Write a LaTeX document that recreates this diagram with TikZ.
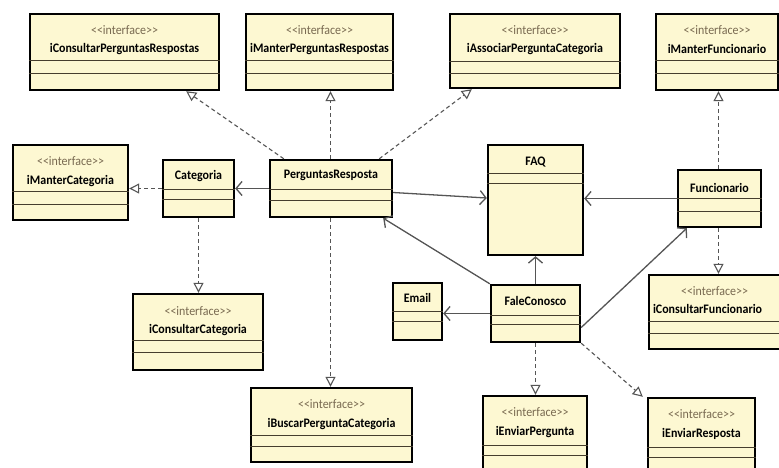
\documentclass[tikz,border=0pt]{standalone}
\usepackage{fontspec}
\setmainfont{Carlito}[FakeStretch=0.92]
\usetikzlibrary{arrows.meta, calc}

\definecolor{classfill}{RGB}{253,248,210}
\definecolor{compline}{RGB}{70,62,45}
\definecolor{stereotext}{RGB}{120,105,80}
\definecolor{linegray}{RGB}{85,85,85}

\begin{document}
\begin{tikzpicture}[x=1pt, y=-1pt,
    cls/.style={draw=black, line width=2.4pt, fill=classfill, inner sep=0pt},
    comp/.style={draw=compline, line width=1.2pt},
    stereo/.style={text=stereotext, font=\fontsize{13}{13}\selectfont, inner sep=0pt},
    cname/.style={font=\bfseries\fontsize{13}{13}\selectfont, inner sep=0pt},
    realize/.style={draw=linegray, line width=1.1pt, dash pattern=on 4pt off 3pt, -{Triangle[open, length=10pt, width=10pt]}},
    assoc/.style={draw=linegray, line width=1.3pt, -{Straight Barb[length=6pt, width=14pt]}}]
\useasboundingbox[fill=white] (0,0) rectangle (779,467);

% interfaces, top row
\node[cls, minimum width=189pt, minimum height=76pt] (icpr) at (124.5,52) {};
\draw[comp] ([yshift=-48pt]icpr.north west) -- ([yshift=-48pt]icpr.north east);
\draw[comp] ([yshift=-61pt]icpr.north west) -- ([yshift=-61pt]icpr.north east);
\node[stereo] (icprS) at ([yshift=-17pt]icpr.north) {<{}<interface>{}>};
\node[cname] (icprN) at ([yshift=-36pt]icpr.north) {iConsultarPerguntasRespostas};

\node[cls, minimum width=147pt, minimum height=76pt] (impr) at (319.5,52) {};
\draw[comp] ([yshift=-48pt]impr.north west) -- ([yshift=-48pt]impr.north east);
\draw[comp] ([yshift=-61pt]impr.north west) -- ([yshift=-61pt]impr.north east);
\node[stereo] (imprS) at ([yshift=-17pt]impr.north) {<{}<interface>{}>};
\node[cname] (imprN) at ([yshift=-36pt]impr.north) {iManterPerguntasRespostas};

\node[cls, minimum width=170pt, minimum height=74pt] (iapc) at (535,51) {};
\draw[comp] ([yshift=-49pt]iapc.north west) -- ([yshift=-49pt]iapc.north east);
\draw[comp] ([yshift=-61pt]iapc.north west) -- ([yshift=-61pt]iapc.north east);
\node[stereo] (iapcS) at ([yshift=-17pt]iapc.north) {<{}<interface>{}>};
\node[cname] (iapcN) at ([yshift=-36pt]iapc.north) {iAssociarPerguntaCategoria};

\node[cls, minimum width=122pt, minimum height=76pt] (imf) at (717,52) {};
\draw[comp] ([yshift=-48pt]imf.north west) -- ([yshift=-48pt]imf.north east);
\draw[comp] ([yshift=-61pt]imf.north west) -- ([yshift=-61pt]imf.north east);
\node[stereo] (imfS) at ([yshift=-17pt]imf.north) {<{}<interface>{}>};
\node[cname] (imfN) at ([yshift=-36pt]imf.north) {iManterFuncionario};

% middle row
\node[cls, minimum width=115pt, minimum height=75pt] (imc) at (70.5,182.5) {};
\draw[comp] ([yshift=-48pt]imc.north west) -- ([yshift=-48pt]imc.north east);
\draw[comp] ([yshift=-61pt]imc.north west) -- ([yshift=-61pt]imc.north east);
\node[stereo] (imcS) at ([yshift=-17pt]imc.north) {<{}<interface>{}>};
\node[cname] (imcN) at ([yshift=-37pt]imc.north) {iManterCategoria};

\node[cls, minimum width=71pt, minimum height=57pt] (cat) at (198.5,188.5) {};
\draw[comp] ([yshift=-31pt]cat.north west) -- ([yshift=-31pt]cat.north east);
\draw[comp] ([yshift=-41pt]cat.north west) -- ([yshift=-41pt]cat.north east);
\node[cname] (catN) at ([yshift=-17pt]cat.north) {Categoria};

\node[cls, minimum width=122pt, minimum height=57pt] (pr) at (331,188.5) {};
\draw[comp] ([yshift=-31pt]pr.north west) -- ([yshift=-31pt]pr.north east);
\draw[comp] ([yshift=-42pt]pr.north west) -- ([yshift=-42pt]pr.north east);
\node[cname] (prN) at ([yshift=-17pt]pr.north) {PerguntasResposta};

\node[cls, minimum width=95pt, minimum height=110pt] (faq) at (535.5,200) {};
\draw[comp] ([yshift=-30pt]faq.north west) -- ([yshift=-30pt]faq.north east);
\draw[comp] ([yshift=-40pt]faq.north west) -- ([yshift=-40pt]faq.north east);
\node[cname] (faqN) at ([yshift=-18pt]faq.north) {FAQ};

\node[cls, minimum width=83pt, minimum height=57pt] (func) at (719.5,198.5) {};
\draw[comp] ([yshift=-30pt]func.north west) -- ([yshift=-30pt]func.north east);
\draw[comp] ([yshift=-43pt]func.north west) -- ([yshift=-43pt]func.north east);
\node[cname] (funcN) at ([yshift=-19pt]func.north) {Funcionario};

% lower row
\node[cls, minimum width=49pt, minimum height=57pt] (email) at (417.5,311.5) {};
\draw[comp] ([yshift=-30pt]email.north west) -- ([yshift=-30pt]email.north east);
\draw[comp] ([yshift=-40pt]email.north west) -- ([yshift=-40pt]email.north east);
\node[cname] (emailN) at ([yshift=-16pt]email.north) {Email};

\node[cls, minimum width=89pt, minimum height=57pt] (fc) at (535.5,313.5) {};
\draw[comp] ([yshift=-32pt]fc.north west) -- ([yshift=-32pt]fc.north east);
\draw[comp] ([yshift=-41pt]fc.north west) -- ([yshift=-41pt]fc.north east);
\node[cname] (fcN) at ([yshift=-17pt]fc.north) {FaleConosco};

\node[cls, minimum width=130pt, minimum height=76pt] (icc) at (198,332) {};
\draw[comp] ([yshift=-48pt]icc.north west) -- ([yshift=-48pt]icc.north east);
\draw[comp] ([yshift=-60pt]icc.north west) -- ([yshift=-60pt]icc.north east);
\node[stereo] (iccS) at ([yshift=-18pt]icc.north) {<{}<interface>{}>};
\node[cname] (iccN) at ([yshift=-37pt]icc.north) {iConsultarCategoria};

\node[cls, minimum width=151pt, minimum height=74pt] (icf) at (724.5,312) {};
\draw[comp] ([yshift=-48pt]icf.north west) -- ([yshift=-48pt]icf.north east);
\draw[comp] ([yshift=-60pt]icf.north west) -- ([yshift=-60pt]icf.north east);
\node[stereo] (icfS) at ([xshift=-10pt, yshift=-17pt]icf.north) {<{}<interface>{}>};
\node[cname, anchor=west] (icfN) at ([xshift=5pt, yshift=-35pt]icf.north west) {iConsultarFuncionario};

% interfaces, bottom row
\node[cls, minimum width=161pt, minimum height=74pt] (ibpc) at (331.5,425) {};
\draw[comp] ([yshift=-49pt]ibpc.north west) -- ([yshift=-49pt]ibpc.north east);
\draw[comp] ([yshift=-60pt]ibpc.north west) -- ([yshift=-60pt]ibpc.north east);
\node[stereo] (ibpcS) at ([yshift=-17pt]ibpc.north) {<{}<interface>{}>};
\node[cname] (ibpcN) at ([yshift=-37pt]ibpc.north) {iBuscarPerguntaCategoria};

\node[cls, minimum width=104pt, minimum height=84pt] (iep) at (535,438) {};
\draw[comp] ([yshift=-51pt]iep.north west) -- ([yshift=-51pt]iep.north east);
\draw[comp] ([yshift=-61pt]iep.north west) -- ([yshift=-61pt]iep.north east);
\node[stereo] (iepS) at ([yshift=-17pt]iep.north) {<{}<interface>{}>};
\node[cname] (iepN) at ([yshift=-37pt]iep.north) {iEnviarPergunta};

\node[cls, minimum width=107pt, minimum height=84pt] (ier) at (701.5,440) {};
\draw[comp] ([yshift=-51pt]ier.north west) -- ([yshift=-51pt]ier.north east);
\draw[comp] ([yshift=-61pt]ier.north west) -- ([yshift=-61pt]ier.north east);
\node[stereo] (ierS) at ([yshift=-17pt]ier.north) {<{}<interface>{}>};
\node[cname] (ierN) at ([yshift=-37pt]ier.north) {iEnviarResposta};

% realizations
\draw[realize] ([xshift=15pt]pr.north west) -- ([xshift=-34pt]icpr.south east);
\draw[realize] ([xshift=-0.5pt]pr.north) -- ([xshift=-0.5pt]pr.north |- impr.south);
\draw[realize] ([xshift=-14pt]pr.north east) -- ([xshift=23pt]iapc.south west);
\draw[realize] ([xshift=-0.5pt]pr.south) -- ([xshift=-0.5pt]pr.south |- ibpc.north);
\draw[realize] (cat.west) -- (cat.west -| imc.east);
\draw[realize] (cat.south) -- (cat.south |- icc.north);
\draw[realize] ([xshift=-1pt]func.north) -- ([xshift=-1pt]func.north |- imf.south);
\draw[realize] ([xshift=-1pt]func.south) -- ([xshift=-1pt]func.south |- icf.north);
\draw[realize] (fc.south) -- (fc.south |- iep.north);
\draw[realize] (fc.south east) -- ([xshift=-4pt]ier.north west);

% associations
\draw[assoc] (pr.west) -- (pr.west -| cat.east);
\draw[assoc] ([yshift=-4pt]pr.east) -- ([yshift=2pt]faq.west);
\draw[assoc] (func.west) -- (func.west -| faq.east);
\draw[assoc] (fc.north west) -- ([xshift=-10pt]pr.south east);
\draw[assoc] (fc.north) -- (faq.south);
\draw[assoc] (fc.west) -- (fc.west -| email.east);
\draw[assoc] ([yshift=-14pt]fc.east) -- ([xshift=10pt]func.south west);
\end{tikzpicture}
\end{document}
